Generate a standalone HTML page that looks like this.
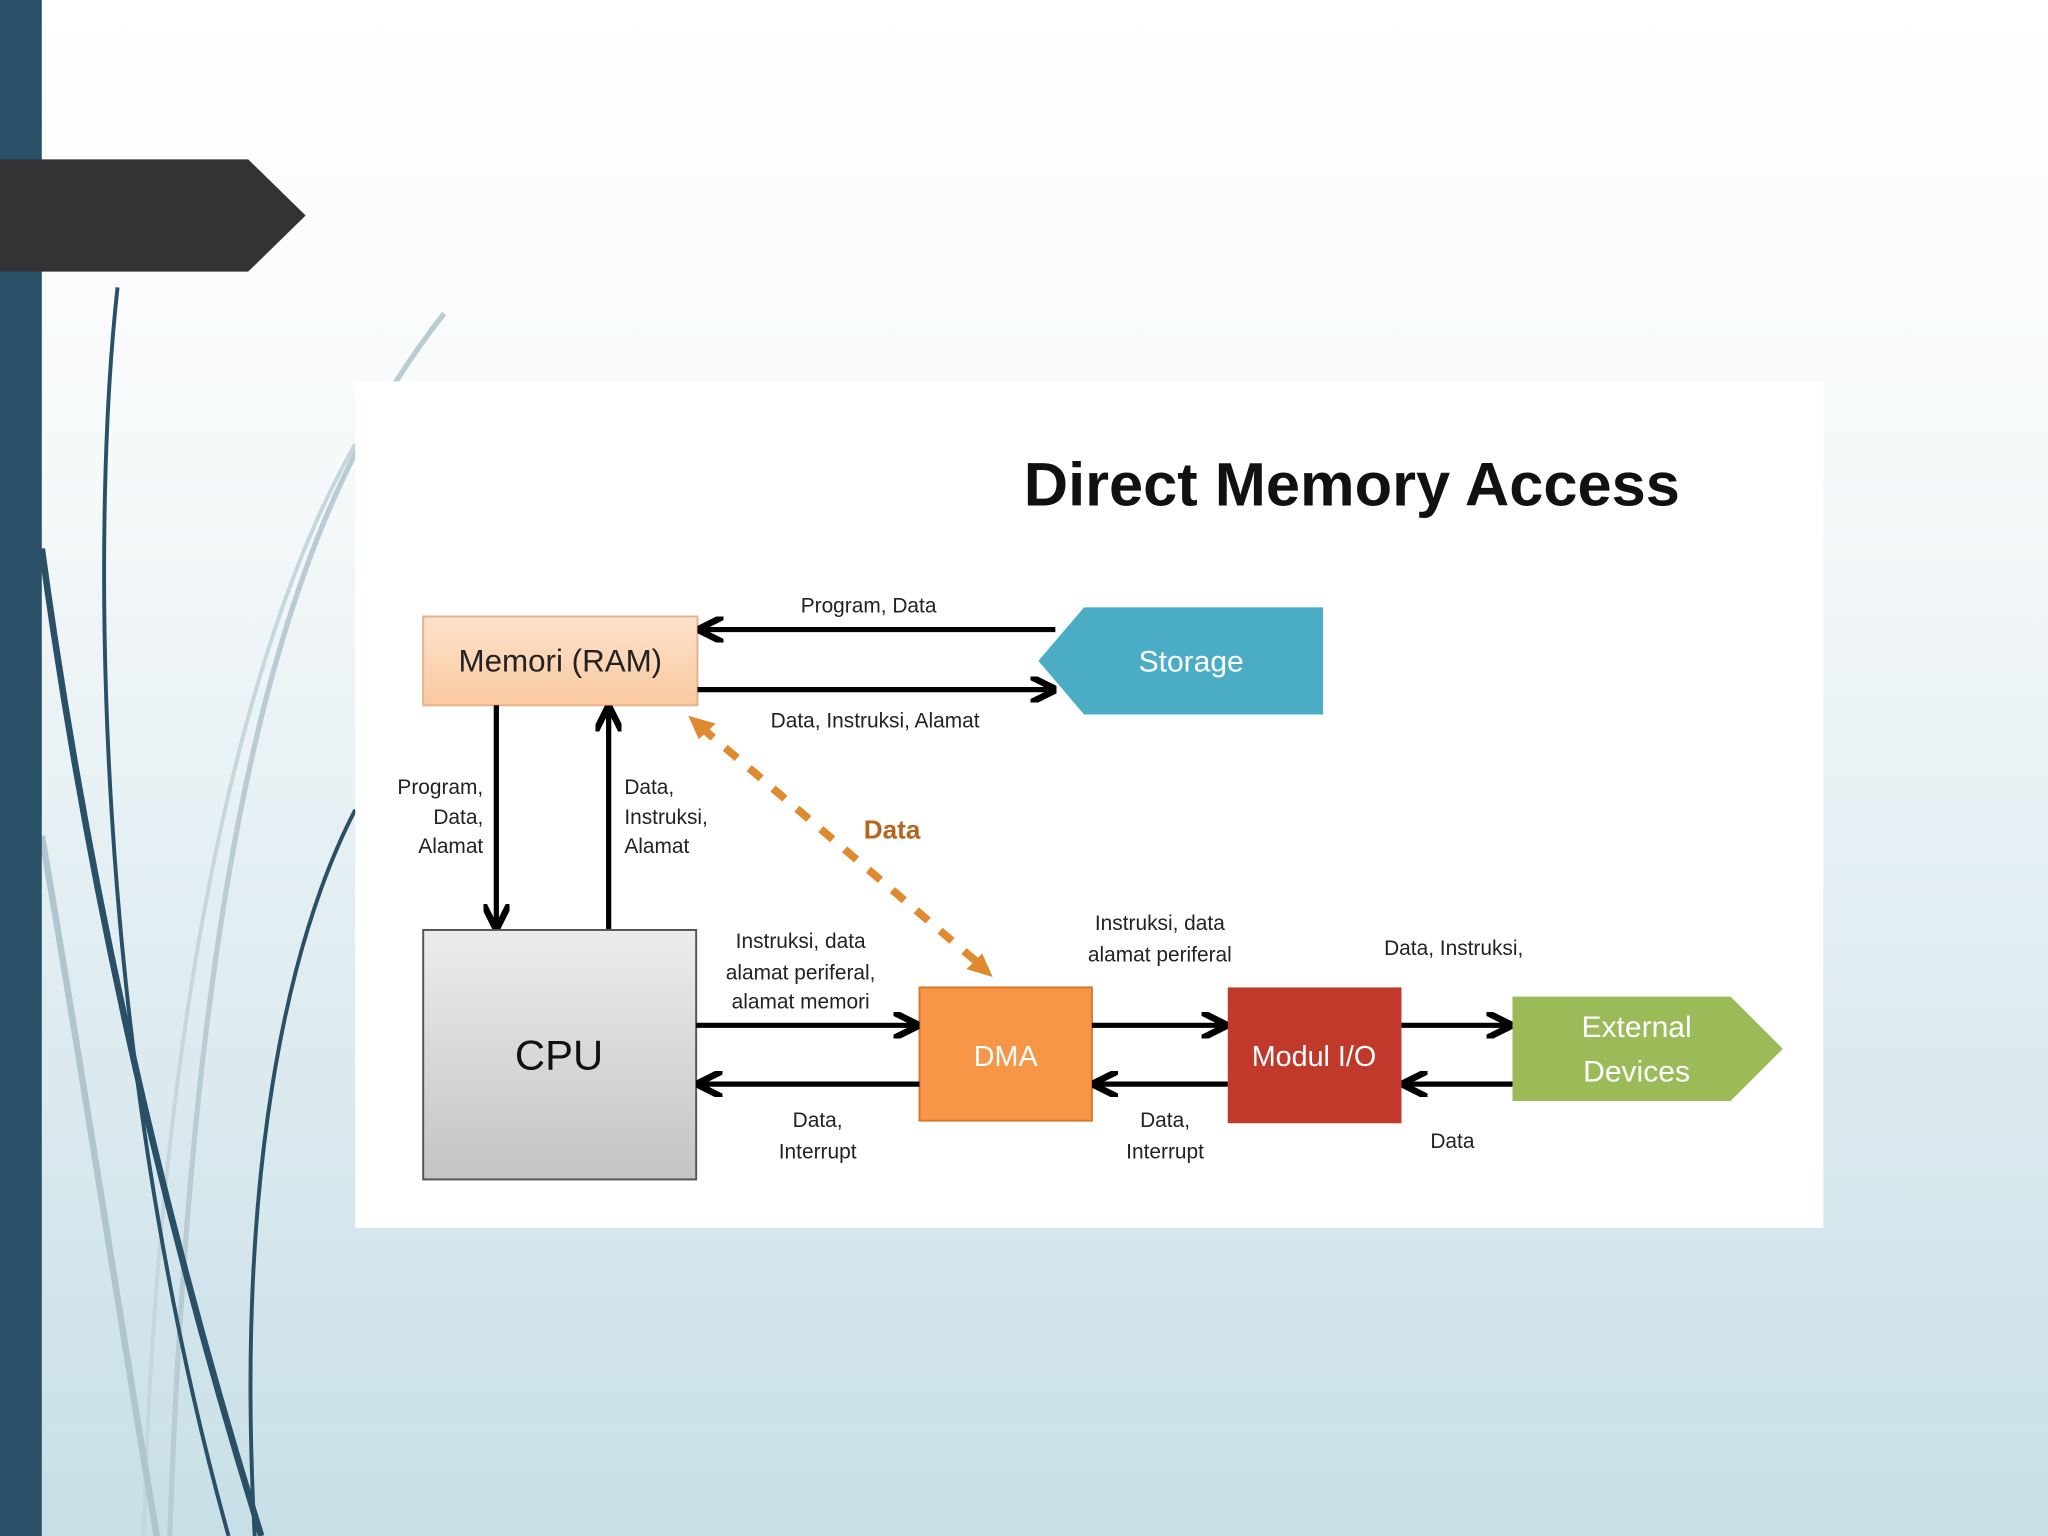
<!DOCTYPE html>
<html><head><meta charset="utf-8"><style>
html,body{margin:0;padding:0;width:2048px;height:1536px;overflow:hidden}
svg{display:block}
text{font-family:"Liberation Sans",sans-serif}
</style></head><body>
<svg width="2048" height="1536" viewBox="0 0 1568 1176" xmlns="http://www.w3.org/2000/svg">
<defs>
<linearGradient id="bg" x1="0" y1="0" x2="0" y2="1"><stop offset="0" stop-color="#ffffff"/><stop offset="0.3" stop-color="#f6f9fa"/><stop offset="1" stop-color="#c8dfe7"/></linearGradient>
<linearGradient id="mem" x1="0" y1="0" x2="0" y2="1"><stop offset="0" stop-color="#fde2cc"/><stop offset="1" stop-color="#f9c9a0"/></linearGradient>
<linearGradient id="cpu" x1="0" y1="0" x2="0" y2="1"><stop offset="0" stop-color="#ececec"/><stop offset="1" stop-color="#c4c4c4"/></linearGradient>
<marker id="ah" viewBox="0 0 10 10" refX="8" refY="5" markerWidth="5" markerHeight="5" orient="auto"><path d="M0,0 L10,5 L0,10" fill="none" stroke="#000" stroke-width="2.5"/></marker>
<marker id="oh" viewBox="0 0 10 10" refX="8" refY="5" markerWidth="5" markerHeight="5" orient="auto"><path d="M0,0 L10,5 L0,10" fill="none" stroke="#e08a30" stroke-width="2.5"/></marker>
</defs>
<rect width="1568" height="1176" fill="url(#bg)"/>
<!-- decorative curves -->
<path d="M340,240 C230,380 150,600 130,1176" stroke="#b9ccd4" stroke-width="4" fill="none"/>
<path d="M272,340 C180,500 120,800 110,1176" stroke="#c5d6dc" stroke-width="3" fill="none"/>
<path d="M32,640 C60,800 90,1000 120,1176" stroke="#b0c6cf" stroke-width="5" fill="none"/>
<path d="M90,220 C70,400 70,800 175,1176" stroke="#2a5068" stroke-width="3" fill="none"/>
<path d="M32,420 C70,700 130,950 200,1176" stroke="#2a5068" stroke-width="5" fill="none"/>
<path d="M272,620 C220,720 180,900 195,1176" stroke="#2a5068" stroke-width="3" fill="none"/>
<rect x="0" y="0" width="32" height="1176" fill="#2a5068"/>
<polygon points="0,122 190,122 234,165 190,208 0,208" fill="#333235"/>
<!-- panel -->
<rect x="272" y="292" width="1124" height="648" fill="#fff"/>
<text x="1035" y="387" font-size="47" font-weight="bold" text-anchor="middle" fill="#111">Direct Memory Access</text>
<!-- Memori -->
<rect x="324" y="472" width="210" height="68" fill="url(#mem)" stroke="#e8b08a" stroke-width="1.5"/>
<text x="429" y="514" font-size="24" text-anchor="middle" fill="#222">Memori (RAM)</text>
<!-- Storage -->
<polygon points="830,465 1013,465 1013,547 830,547 795,506" fill="#4bacc6"/>
<text x="912" y="514" font-size="23" text-anchor="middle" fill="#fff">Storage</text>
<line x1="808" y1="482" x2="538" y2="482" stroke="#000" stroke-width="4" marker-end="url(#ah)"/>
<line x1="534" y1="528" x2="805" y2="528" stroke="#000" stroke-width="4" marker-end="url(#ah)"/>
<text x="665" y="469" font-size="16" text-anchor="middle" fill="#222">Program, Data</text>
<text x="670" y="557" font-size="16" text-anchor="middle" fill="#222">Data, Instruksi, Alamat</text>
<!-- verticals -->
<line x1="380" y1="540" x2="380" y2="708" stroke="#000" stroke-width="4" marker-end="url(#ah)"/>
<line x1="466" y1="712" x2="466" y2="544" stroke="#000" stroke-width="4" marker-end="url(#ah)"/>
<g font-size="16" fill="#222">
<text x="370" y="608" text-anchor="end">Program,</text>
<text x="370" y="631" text-anchor="end">Data,</text>
<text x="370" y="653" text-anchor="end">Alamat</text>
<text x="478" y="608">Data,</text>
<text x="478" y="631">Instruksi,</text>
<text x="478" y="653">Alamat</text>
</g>
<!-- CPU -->
<rect x="324" y="712" width="209" height="191" fill="url(#cpu)" stroke="#555" stroke-width="1.5"/>
<text x="428" y="819" font-size="32" text-anchor="middle" fill="#111">CPU</text>
<!-- DMA -->
<rect x="704" y="756" width="132" height="102" fill="#f79646" stroke="#d9782a" stroke-width="1.5"/>
<text x="770" y="816" font-size="22" text-anchor="middle" fill="#fff">DMA</text>
<!-- Modul -->
<rect x="940" y="756" width="133" height="104" fill="#c0392b"/>
<text x="1006" y="816" font-size="22" text-anchor="middle" fill="#fff">Modul I/O</text>
<!-- External -->
<polygon points="1158,763 1325,763 1365,803 1325,843 1158,843" fill="#9bbb59"/>
<text x="1253" y="794" font-size="23" text-anchor="middle" fill="#fff">External</text>
<text x="1253" y="828" font-size="23" text-anchor="middle" fill="#fff">Devices</text>
<!-- horizontal arrows -->
<g stroke="#000" stroke-width="4">
<line x1="533" y1="785" x2="700" y2="785" marker-end="url(#ah)"/>
<line x1="704" y1="830" x2="537" y2="830" marker-end="url(#ah)"/>
<line x1="836" y1="785" x2="936" y2="785" marker-end="url(#ah)"/>
<line x1="940" y1="830" x2="840" y2="830" marker-end="url(#ah)"/>
<line x1="1073" y1="785" x2="1154" y2="785" marker-end="url(#ah)"/>
<line x1="1158" y1="830" x2="1077" y2="830" marker-end="url(#ah)"/>
</g>
<g font-size="16" fill="#222" text-anchor="middle">
<text x="613" y="726">Instruksi, data</text>
<text x="613" y="750">alamat periferal,</text>
<text x="613" y="772">alamat memori</text>
<text x="626" y="863">Data,</text>
<text x="626" y="887">Interrupt</text>
<text x="888" y="712">Instruksi, data</text>
<text x="888" y="736">alamat periferal</text>
<text x="892" y="863">Data,</text>
<text x="892" y="887">Interrupt</text>
<text x="1113" y="731">Data, Instruksi,</text>
<text x="1112" y="879">Data</text>
</g>
<!-- dashed -->
<line x1="537" y1="557" x2="752" y2="740" stroke="#e08a30" stroke-width="6" stroke-dasharray="12,12"/>
<polygon points="527,548 548,554 535,566" fill="#e08a30"/>
<polygon points="760,748 740,742 752,730" fill="#e08a30"/>
<text x="683" y="642" font-size="20" font-weight="bold" text-anchor="middle" fill="#b5651d">Data</text>
</svg>
</body></html>
